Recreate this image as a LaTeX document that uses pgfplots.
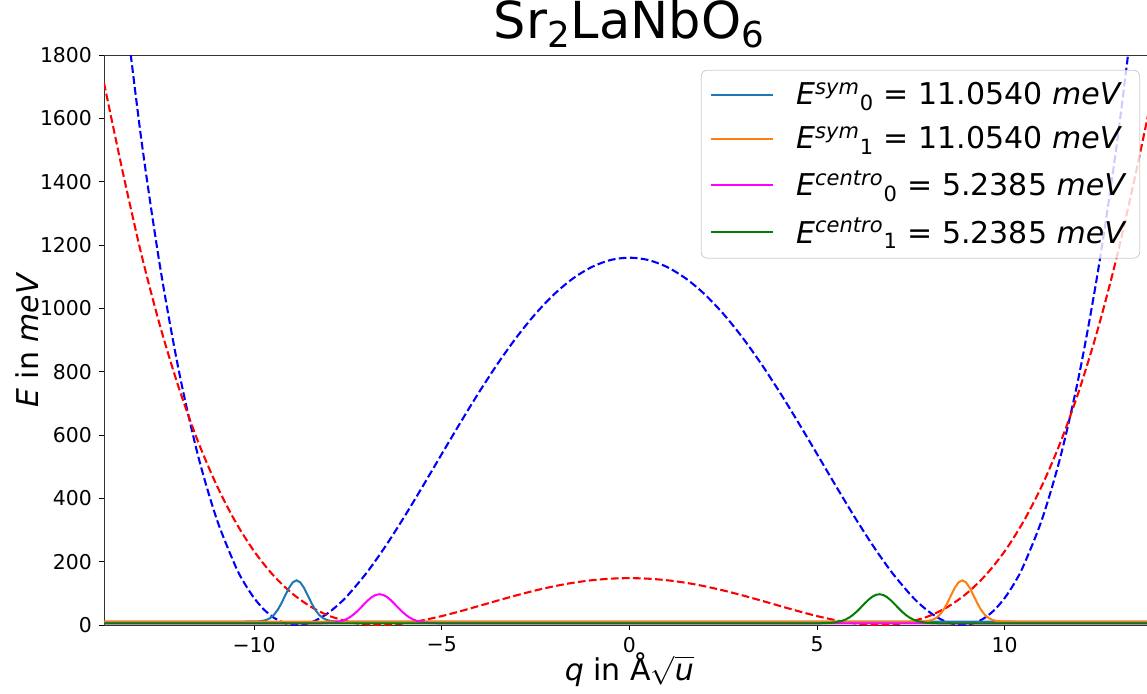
\documentclass[border=0pt]{standalone}
\usepackage{pgfplots}
\pgfplotsset{compat=1.18}
\usepackage{fontspec}
\setmainfont{DejaVu Sans}
\definecolor{tabblue}{HTML}{1F77B4}
\definecolor{taborange}{HTML}{FF7F0E}
\definecolor{mplgreen}{HTML}{008000}
\definecolor{mplmagenta}{HTML}{FF00FF}
\begin{document}
\begin{tikzpicture}
\useasboundingbox (-52pt,-34pt) rectangle (521.5pt,312.5pt);
\clip (-52pt,-34pt) rectangle (521.5pt,312.5pt);
\begin{axis}[
 at={(0pt,0pt)}, anchor=south west,
 scale only axis, width=525.4pt, height=285pt,
 xmin=-14, xmax=14, ymin=0, ymax=1800,
 xtick={-10,-5,0,5,10}, xticklabels={−10,−5,0,5,10},
 ytick={0,200,...,1800},
 /pgf/number format/assume math mode=true,
 /pgf/number format/1000 sep={},
 scaled y ticks=false,
 tick pos=left, tick align=outside, major tick length=2.5pt,
 tick style={black, line width=0.4pt},
 tick label style={font=\fontsize{10.2}{12}\selectfont},
 axis line style={black!80, line width=0.5pt},
 title={Sr\textsubscript{2}LaNbO\textsubscript{6}},
 title style={at={(axis description cs:0.5,1.00877)}, anchor=base, font=\fontsize{25.5}{30}\selectfont},
 xlabel={\textit{q} in Å$\sqrt{\hbox{\itshape u}}$},
 xlabel style={at={(axis description cs:0.5,-0.0965)}, anchor=base, font=\fontsize{15}{18}\selectfont},
 ylabel={\textit{E} in \textit{meV}},
 ylabel style={at={(axis description cs:-0.0628,0.5)}, anchor=base, font=\fontsize{15}{18}\selectfont},
 legend style={at={(axis description cs:0.986,0.974)}, anchor=north east, draw=black!20, rounded corners=3pt, fill=white, fill opacity=0.8, draw opacity=1, text opacity=1, font=\fontsize{15}{18}\selectfont, inner xsep=4.5pt, inner ysep=4pt, row sep=5.5pt, /tikz/every odd column/.append style={column sep=9pt}},
 legend image code/.code={\draw[#1] (0pt,0pt) -- (31pt,0pt);},
 legend cell align=left,
]
% potentials
\addplot[blue, dash pattern=on 3.85pt off 1.67pt, line width=1.04pt, smooth, forget plot] coordinates {
(-13.5,2010.0) (-13,1528.6) (-12.5,1127.5) (-12,799.5) (-11.5,537.7) (-11,335.6) (-10.5,186.8) (-10.25,130.4) (-10,85.2) (-9.75,50.3) (-9.5,25.1) (-9.25,8.9) (-9,1.0) (-8.75,0.8) (-8.5,7.7) (-8.25,21.1) (-8,40.4) (-7.75,64.9) (-7.5,94.3) (-7,165.1) (-6.5,248.7) (-6,341.3) (-5.5,439.5) (-5,540.0) (-4.5,639.7) (-4,736.2) (-3.5,826.9) (-3,909.8) (-2.5,983.0) (-2,1045.1) (-1.5,1094.6) (-1,1130.7) (-0.5,1152.7) (0,1160)
(0.5,1152.7) (1,1130.7) (1.5,1094.6) (2,1045.1) (2.5,983.0) (3,909.8) (3.5,826.9) (4,736.2) (4.5,639.7) (5,540.0) (5.5,439.5) (6,341.3) (6.5,248.7) (7,165.1) (7.5,94.3) (7.75,64.9) (8,40.4) (8.25,21.1) (8.5,7.7) (8.75,0.8) (9,1.0) (9.25,8.9) (9.5,25.1) (9.75,50.3) (10,85.2) (10.25,130.4) (10.5,186.8) (11,335.6) (11.5,537.7) (12,799.5) (12.5,1127.5) (13,1528.6) (13.5,2010.0)
};
\addplot[red, dash pattern=on 3.85pt off 1.67pt, line width=1.04pt, smooth, forget plot] coordinates {
(-14,1712) (-13.5,1430.4) (-13,1168.7) (-12.5,941.8) (-12,746.9) (-11.5,581.1) (-11,441.9) (-10.5,326.6) (-10,232.9) (-9.5,158.4) (-9,101.0) (-8.5,58.5) (-8,29.0) (-7.5,10.6) (-7.25,5.07) (-7,1.62) (-6.75,0.11) (-6.5,0.33) (-6.25,2.11) (-6,5.25) (-5.75,9.59) (-5.5,15.0) (-5,28.2) (-4.5,43.7) (-4,60.5) (-3.5,77.5) (-3,94.0) (-2.5,109.2) (-2,122.5) (-1.5,133.4) (-1,141.4) (-0.5,146.3) (0,148)
(0.5,146.3) (1,141.4) (1.5,133.4) (2,122.5) (2.5,109.2) (3,94.0) (3.5,77.5) (4,60.5) (4.5,43.7) (5,28.2) (5.5,15.0) (5.75,9.59) (6,5.25) (6.25,2.11) (6.5,0.33) (6.75,0.11) (7,1.62) (7.25,5.07) (7.5,10.6) (8,29.0) (8.5,58.5) (9,101.0) (9.5,158.4) (10,232.9) (10.5,326.6) (11,441.9) (11.5,581.1) (12,746.9) (12.5,941.8) (13,1168.7) (13.5,1430.4) (14,1712)
};
% wavefunctions
\addplot[tabblue, line width=1pt] coordinates {
(-14,11.054) (-10.27,11.054) (-10.07,11.14) (-9.87,11.89) (-9.77,13.24) (-9.67,16.22) (-9.57,22.05) (-9.47,32.25) (-9.37,47.95) (-9.27,69.05) (-9.17,93.65) (-9.07,117.35) (-8.97,134.65) (-8.87,141.05) (-8.77,134.65) (-8.67,117.35) (-8.57,93.65) (-8.47,69.05) (-8.37,47.95) (-8.27,32.25) (-8.17,22.05) (-8.07,16.22) (-7.97,13.24) (-7.87,11.89) (-7.67,11.14) (-7.47,11.054) (14,11.054)
};
\addlegendentry{\textit{E}\textsuperscript{\textit{sym}}\textsubscript{0} = 11.0540 \textit{meV}}
\addplot[taborange, line width=1pt] coordinates {
(-14,11.054) (7.47,11.054) (7.67,11.14) (7.87,11.89) (7.97,13.24) (8.07,16.22) (8.17,22.05) (8.27,32.25) (8.37,47.95) (8.47,69.05) (8.57,93.65) (8.67,117.35) (8.77,134.65) (8.87,141.05) (8.97,134.65) (9.07,117.35) (9.17,93.65) (9.27,69.05) (9.37,47.95) (9.47,32.25) (9.57,22.05) (9.67,16.22) (9.77,13.24) (9.87,11.89) (10.07,11.14) (10.27,11.054) (14,11.054)
};
\addlegendentry{\textit{E}\textsuperscript{\textit{sym}}\textsubscript{1} = 11.0540 \textit{meV}}
\addplot[mplmagenta, line width=1pt] coordinates {
(-14,5.2385) (-8.66,5.2385) (-8.46,5.24) (-8.26,5.39) (-8.06,5.92) (-7.86,7.75) (-7.66,12.77) (-7.56,17.36) (-7.46,23.79) (-7.36,32.23) (-7.26,42.61) (-7.16,54.46) (-7.06,66.89) (-6.96,78.69) (-6.86,88.48) (-6.76,94.97) (-6.66,97.24) (-6.56,94.97) (-6.46,88.48) (-6.36,78.69) (-6.26,66.89) (-6.16,54.46) (-6.06,42.61) (-5.96,32.23) (-5.86,23.79) (-5.76,17.36) (-5.66,12.77) (-5.46,7.75) (-5.26,5.92) (-5.06,5.39) (-4.86,5.24) (-4.66,5.2385) (14,5.2385)
};
\addlegendentry{\textit{E}\textsuperscript{\textit{centro}}\textsubscript{0} = 5.2385 \textit{meV}}
\addplot[mplgreen, line width=1pt] coordinates {
(-14,5.2385) (4.66,5.2385) (4.86,5.24) (5.06,5.39) (5.26,5.92) (5.46,7.75) (5.66,12.77) (5.76,17.36) (5.86,23.79) (5.96,32.23) (6.06,42.61) (6.16,54.46) (6.26,66.89) (6.36,78.69) (6.46,88.48) (6.56,94.97) (6.66,97.24) (6.76,94.97) (6.86,88.48) (6.96,78.69) (7.06,66.89) (7.16,54.46) (7.26,42.61) (7.36,32.23) (7.46,23.79) (7.56,17.36) (7.66,12.77) (7.86,7.75) (8.06,5.92) (8.26,5.39) (8.46,5.24) (8.66,5.2385) (14,5.2385)
};
\addlegendentry{\textit{E}\textsuperscript{\textit{centro}}\textsubscript{1} = 5.2385 \textit{meV}}
\end{axis}
\end{tikzpicture}
\end{document}
